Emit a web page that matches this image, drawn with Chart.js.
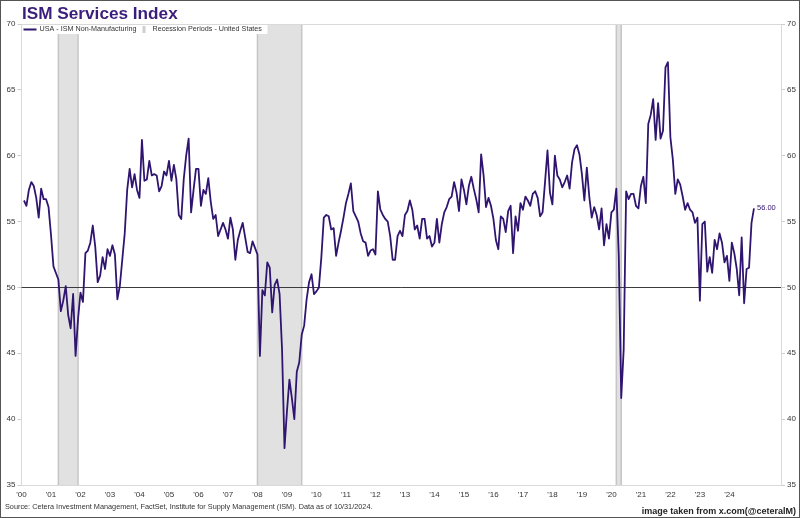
<!DOCTYPE html>
<html>
<head>
<meta charset="utf-8">
<script src="https://cdn.jsdelivr.net/npm/chart.js@4.4.1/dist/chart.umd.min.js"></script>
<style>
  html, body { margin: 0; padding: 0; background: #fff; }
  canvas { display: block; }
</style>
</head>
<body>
<canvas id="ismChart" width="800" height="518"></canvas>
<script>
// ISM Services (Non-Manufacturing) index, monthly, Jan..Dec
var v2000 = [56.6, 56.2, 57.4, 58.0, 57.7, 56.8, 55.3, 57.5, 56.7, 56.7, 56.1, 54.0];
var v2001 = [51.6, 51.1, 50.6, 48.2, 49.0, 50.1, 47.9, 46.9, 49.5, 44.8, 47.6, 49.6];
var v2002 = [48.9, 52.6, 52.8, 53.4, 54.7, 53.1, 50.4, 50.9, 52.3, 51.4, 52.9, 52.4];
var v2003 = [53.2, 52.5, 49.1, 50.1, 52.1, 54.1, 57.4, 59.0, 57.6, 58.6, 57.4, 56.8];
var v2004 = [61.2, 58.1, 58.2, 59.6, 58.5, 58.6, 58.5, 57.3, 57.7, 58.8, 58.5, 59.6];
var v2005 = [58.1, 59.3, 58.2, 55.5, 55.2, 58.2, 60.0, 61.3, 55.7, 57.4, 59.0, 59.0];
var v2006 = [56.2, 57.4, 57.1, 58.3, 56.5, 55.2, 55.5, 53.9, 54.4, 54.9, 54.4, 53.7];
var v2007 = [55.3, 54.4, 52.1, 53.6, 54.3, 54.9, 53.8, 52.7, 52.6, 53.5, 53.0, 52.5];
var v2008 = [44.8, 49.8, 49.4, 51.9, 51.5, 48.1, 50.2, 50.6, 49.5, 45.3, 37.8, 40.6];
var v2009 = [43.0, 41.6, 40.0, 43.6, 44.3, 46.4, 47.1, 49.1, 50.4, 51.0, 49.5, 49.7];
var v2010 = [50.0, 52.3, 55.3, 55.5, 55.4, 54.4, 54.5, 52.4, 53.4, 54.3, 55.3, 56.4];
var v2011 = [57.1, 57.9, 55.8, 55.4, 55.0, 54.1, 53.5, 53.4, 52.4, 52.8, 52.9, 52.5];
var v2012 = [57.3, 55.9, 55.5, 55.2, 55.0, 53.9, 52.1, 52.1, 53.9, 54.3, 53.9, 55.5];
var v2013 = [55.8, 56.6, 55.9, 54.4, 54.7, 53.7, 55.2, 55.2, 53.7, 53.9, 53.1, 53.4];
var v2014 = [55.2, 53.4, 54.8, 55.7, 56.1, 56.7, 56.9, 58.0, 57.2, 55.8, 58.2, 57.4];
var v2015 = [56.3, 57.7, 58.4, 57.5, 56.7, 55.7, 60.1, 58.5, 56.1, 56.8, 56.2, 55.2];
var v2016 = [53.6, 52.9, 55.4, 55.2, 54.2, 55.8, 56.2, 52.6, 55.4, 54.3, 56.4, 55.9];
var v2017 = [56.9, 56.6, 56.2, 57.1, 57.3, 56.8, 55.4, 55.7, 58.0, 60.4, 57.2, 56.3];
var v2018 = [60.0, 58.5, 58.2, 57.6, 58.0, 58.5, 57.5, 59.5, 60.5, 60.8, 60.1, 58.6];
var v2019 = [56.6, 59.1, 56.9, 55.3, 56.1, 55.5, 54.4, 56.0, 53.2, 54.8, 53.7, 55.7];
var v2020 = [55.9, 57.5, 52.4, 41.6, 45.3, 57.3, 56.7, 57.1, 57.1, 56.2, 56.0, 57.7];
var v2021 = [58.4, 56.4, 62.4, 63.1, 64.3, 61.2, 64.0, 61.3, 61.9, 66.7, 67.1, 61.4];
var v2022 = [59.7, 57.1, 58.2, 57.8, 56.9, 55.9, 56.4, 55.9, 55.7, 54.9, 55.3, 49.0];
var v2023 = [54.8, 55.0, 51.2, 52.3, 51.1, 53.6, 52.9, 54.1, 53.4, 51.9, 52.4, 50.5];
var v2024 = [53.4, 52.6, 51.4, 49.4, 53.8, 48.8, 51.4, 51.5, 54.9, 56.0];

// US recessions (first and last month)
var recessionStart = ['2001-03', '2007-12', '2020-02'];
var recessionEnd = ['2001-11', '2009-06', '2020-04'];

var yearTicks = [2000, 2001, 2002, 2003, 2004, 2005, 2006, 2007, 2008, 2009, 2010, 2011, 2012,
                 2013, 2014, 2015, 2016, 2017, 2018, 2019, 2020, 2021, 2022, 2023, 2024];
var yearLabels = ["'00", "'01", "'02", "'03", "'04", "'05", "'06", "'07", "'08", "'09", "'10", "'11", "'12",
                  "'13", "'14", "'15", "'16", "'17", "'18", "'19", "'20", "'21", "'22", "'23", "'24"];
var refLevel = 50;

var lineColor = '#2f1470';
var fontFamily = "'Liberation Sans', Arial, sans-serif";

// month-end position on the time axis
function monthToX(s) {
    var p = s.split('-');
    return +p[0] + (+p[1]) / 12;
}

var points = [];
[v2000, v2001, v2002, v2003, v2004, v2005, v2006, v2007, v2008, v2009, v2010, v2011, v2012,
 v2013, v2014, v2015, v2016, v2017, v2018, v2019, v2020, v2021, v2022, v2023, v2024].forEach(function (vals, i) {
    vals.forEach(function (v, j) {
        points.push({ x: 2000 + i + (j + 1) / 12, y: v });
    });
});

var decor = {
    id: 'decor',
    beforeDatasetsDraw: function (chart) {
        var ctx = chart.ctx, a = chart.chartArea, xs = chart.scales.x, ys = chart.scales.y;
        ctx.save();
        // recession bands
        recessionStart.forEach(function (s, i) {
            var x0 = xs.getPixelForValue(monthToX(s));
            var x1 = xs.getPixelForValue(monthToX(recessionEnd[i]));
            ctx.fillStyle = '#e1e1e1';
            ctx.fillRect(x0, a.top + 1, x1 - x0, a.bottom - a.top - 1);
            ctx.strokeStyle = '#c6c6c6';
            ctx.lineWidth = 1.5;
            ctx.beginPath();
            ctx.moveTo(x0, a.top + 1); ctx.lineTo(x0, a.bottom);
            ctx.moveTo(x1, a.top + 1); ctx.lineTo(x1, a.bottom);
            ctx.stroke();
        });
        // 50 line
        var y50 = Math.round(ys.getPixelForValue(refLevel)) + 0.5;
        ctx.strokeStyle = '#3c3c3c';
        ctx.lineWidth = 1;
        ctx.beginPath();
        ctx.moveTo(a.left, y50);
        ctx.lineTo(a.right, y50);
        ctx.stroke();
        ctx.restore();
    },
    afterDatasetsDraw: function (chart) {
        var ctx = chart.ctx, a = chart.chartArea, xs = chart.scales.x, ys = chart.scales.y;
        ctx.save();
        // legend box
        ctx.fillStyle = '#fff';
        ctx.fillRect(a.left + 1, a.top + 1, 245, 9);
        ctx.strokeStyle = lineColor;
        ctx.lineWidth = 2;
        ctx.beginPath();
        ctx.moveTo(a.left + 2, a.top + 5.5);
        ctx.lineTo(a.left + 15, a.top + 5.5);
        ctx.stroke();
        ctx.fillStyle = '#cfcfcf';
        ctx.fillRect(a.left + 121, a.top + 2, 3, 7);
        ctx.fillStyle = '#333';
        ctx.font = '7.2px ' + fontFamily;
        ctx.textBaseline = 'middle';
        ctx.fillText('USA - ISM Non-Manufacturing', a.left + 18, a.top + 5.5);
        ctx.fillText('Recession Periods - United States', a.left + 131, a.top + 5.5);
        // last value label
        var last = points[points.length - 1];
        ctx.fillStyle = lineColor;
        ctx.font = '7.5px ' + fontFamily;
        ctx.fillText(last.y.toFixed(2), xs.getPixelForValue(last.x) + 3, ys.getPixelForValue(last.y));
        ctx.restore();
    },
    afterDraw: function (chart) {
        var ctx = chart.ctx;
        ctx.save();
        ctx.fillStyle = '#3b1e7c';
        ctx.font = 'bold 17.2px ' + fontFamily;
        ctx.textBaseline = 'alphabetic';
        ctx.fillText('ISM Services Index', 22, 18.5);
        ctx.fillStyle = '#333';
        ctx.font = '7.3px ' + fontFamily;
        ctx.fillText('Source: Cetera Investment Management, FactSet, Institute for Supply Management (ISM). Data as of 10/31/2024.', 5, 509);
        ctx.fillStyle = '#222';
        ctx.font = 'bold 9px ' + fontFamily;
        ctx.textAlign = 'right';
        ctx.fillText('image taken from x.com(@ceteralM)', 796, 514);
        ctx.strokeStyle = '#555';
        ctx.lineWidth = 1;
        ctx.strokeRect(0.5, 0.5, 799, 517);
        ctx.restore();
    }
};

function edgeGrid(c) {
    return c.tick && (c.tick.value === 70 || c.tick.value === 35) ? '#d9d9d9' : 'rgba(0,0,0,0)';
}

var yAxisBase = {
    min: 35,
    max: 70,
    ticks: { stepSize: 5, color: '#333', font: { size: 8, family: fontFamily }, padding: 2 },
    grid: { color: edgeGrid, tickColor: '#cccccc', tickLength: 4, drawTicks: true },
    border: { color: '#d9d9d9' }
};

var ismChart = new Chart(document.getElementById('ismChart'), {
    type: 'line',
    data: {
        datasets: [{
            label: 'USA - ISM Non-Manufacturing',
            data: points,
            borderColor: lineColor,
            borderWidth: 1.8,
            pointRadius: 0,
            tension: 0,
            borderJoinStyle: 'round',
            yAxisID: 'y'
        }]
    },
    options: {
        responsive: false,
        animation: false,
        devicePixelRatio: 1,
        layout: { padding: { top: 24, bottom: 16, left: 0, right: 0 } },
        plugins: { legend: { display: false }, tooltip: { enabled: false } },
        scales: {
            x: {
                type: 'linear',
                min: 2000,
                max: 2025.75,
                grid: { display: false, drawTicks: false },
                border: { color: '#d9d9d9' },
                ticks: {
                    color: '#333',
                    font: { size: 8, family: fontFamily },
                    padding: 5,
                    maxRotation: 0,
                    autoSkip: false,
                    callback: function (v) { return yearLabels[yearTicks.indexOf(v)]; }
                },
                afterBuildTicks: function (s) { s.ticks = yearTicks.map(function (v) { return { value: v }; }); },
                afterFit: function (s) { s.height = 17; }
            },
            y: Object.assign({}, yAxisBase, {
                position: 'left',
                afterFit: function (s) { s.width = 21.5; }
            }),
            y2: Object.assign({}, yAxisBase, {
                position: 'right',
                afterFit: function (s) { s.width = 19; }
            })
        }
    },
    plugins: [decor]
});
</script>
</body>
</html>
